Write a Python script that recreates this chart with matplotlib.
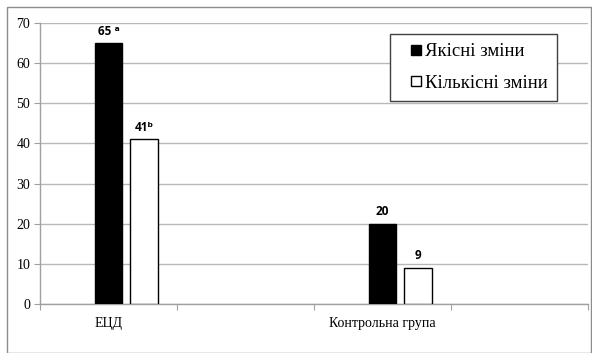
import numpy as np
import matplotlib.pyplot as plt
from matplotlib.patches import Rectangle
from matplotlib.lines import Line2D

categories = ['ЕЦД', '', 'Контрольна група', '']
yakisni = [65, np.nan, 20, np.nan]
kilkisni = [41, np.nan, 9, np.nan]
labels_yak = ['65 ᵃ', '', '20', '']
labels_kil = ['41ᵇ', '', '9', '']
series_names = ['Якісні зміни', 'Кількісні зміни']
yticks = [0, 10, 20, 30, 40, 50, 60, 70]

serif = ['Liberation Serif', 'DejaVu Serif']
sans = ['Open Sans', 'DejaVu Sans']

fig = plt.figure(figsize=(5.92, 3.53), dpi=100)
ax = fig.add_axes([40 / 592, 1 - 304 / 353, 548 / 592, 281 / 353])

x = np.arange(len(categories)) + 0.5
w = 0.2
ax.bar(x, yakisni, width=w, color='black', edgecolor='black', linewidth=1, zorder=3)
ax.bar(x + 0.26, kilkisni, width=w, color='white', edgecolor='black', linewidth=1, zorder=3)

for xi, v, lab in zip(x, yakisni, labels_yak):
    if lab:
        ax.annotate(lab, (xi, v), xytext=(0, 4), textcoords='offset points',
                    ha='center', va='bottom', fontsize=8.5, fontweight='bold', family=sans)
for xi, v, lab in zip(x + 0.26, kilkisni, labels_kil):
    if lab:
        ax.annotate(lab, (xi, v), xytext=(0, 4), textcoords='offset points',
                    ha='center', va='bottom', fontsize=8.5, fontweight='bold', family=sans)

ax.set_xlim(0, len(categories))
ax.set_ylim(0, 70)
ax.set_yticks(yticks)
ax.set_yticklabels([str(t) for t in yticks], family=serif, fontsize=10)
ax.set_xticks(np.arange(len(categories) + 1))
ax.set_xticklabels([])
ax.set_xticks(x, minor=True)
ax.set_xticklabels(categories, minor=True, family=serif, fontsize=10)
ax.tick_params(axis='x', which='minor', length=0, pad=9)
ax.tick_params(axis='x', which='major', length=4, color='#a0a0a0', direction='out')
ax.tick_params(axis='y', length=4, color='#a0a0a0', pad=3)

ax.grid(axis='y', color='#b8b8b8', linewidth=1, zorder=0)
for s in ['top', 'right']:
    ax.spines[s].set_visible(False)
for s in ['left', 'bottom']:
    ax.spines[s].set_color('#a0a0a0')
    ax.spines[s].set_linewidth(1)

handles = [
    Line2D([], [], marker='s', color='none', markerfacecolor='black', markeredgecolor='black', markersize=7.5),
    Line2D([], [], marker='s', color='none', markerfacecolor='white', markeredgecolor='black', markersize=7.5),
]
leg = ax.legend(handles, series_names, loc='upper right', bbox_to_anchor=(0.943, 0.961),
                borderaxespad=0, prop={'family': serif, 'size': 13.5}, fancybox=False,
                framealpha=1, edgecolor='#404040', handlelength=1.8, handletextpad=-0.45,
                labelspacing=0.75, borderpad=0.5)
leg.get_frame().set_linewidth(1)

fig.patches.append(Rectangle((7 / 592, 0.5 / 353), 584 / 592, (353 - 7.5) / 353,
                             transform=fig.transFigure, fill=False,
                             edgecolor='#8c8c8c', linewidth=1))

fig.savefig('out.png', dpi=100)
